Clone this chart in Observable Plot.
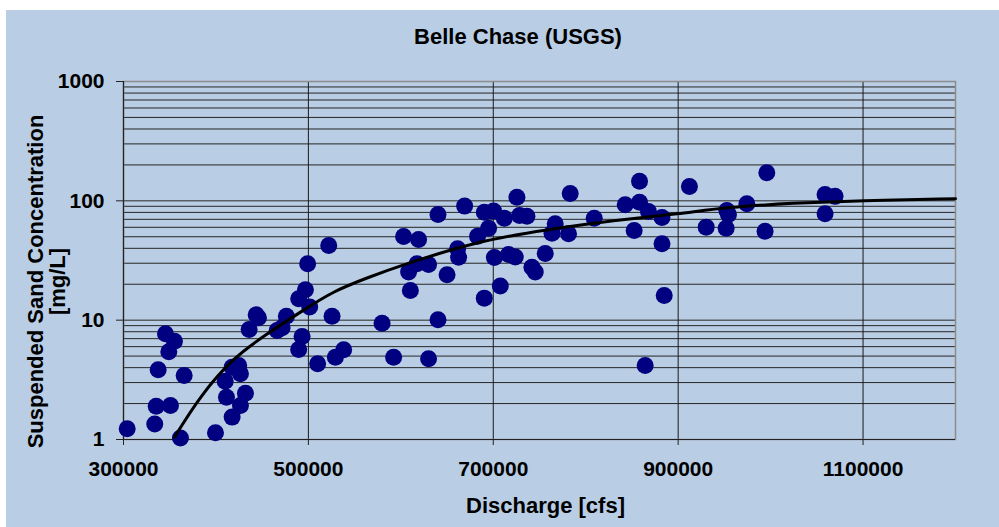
<!DOCTYPE html>
<html><head><meta charset="utf-8">
<script src="https://cdn.jsdelivr.net/npm/d3@7"></script>
<script src="https://cdn.jsdelivr.net/npm/@observablehq/plot@0.6"></script>
<style>
body{margin:0;background:#fff;width:999px;height:527px;overflow:hidden;font-family:"Liberation Sans",Arial,sans-serif;}
#panel{position:absolute;left:6px;top:10px;width:993px;height:517px;background:#b9cde5;}
#title{height:50px;line-height:54px;font-weight:bold;font-size:22px;text-align:center;padding-left:31px;color:#000;}
#chart svg{display:block;}
</style>
</head><body>
<div id="panel"><div id="title">Belle Chase (USGS)</div><div id="chart"></div></div>
<script>
const discharge = [304000,333800,335400,350800,337500,365600,345400,355100,349000,361600,
  399500,417500,411400,426500,431900,410000,417500,424600,426500,435900,
  443500,446000,466200,471600,476200,493200,489500,489500,496800,501400,
  499200,522000,525600,510000,529200,538200,579700,592200,603000,640200,
  669000,619200,661400,662500,617500,630000,608400,650000,610300,640200,
  630000,683000,694900,690300,700300,711900,725600,728400,736400,701200,
  716500,723800,756200,741800,745400,690300,707600,767000,763500,781400,
  783200,809200,842700,858200,858200,867900,882500,852400,882500,884900,
  864300,912200,930300,952700,954400,951900,974300,995900,994000,1058900,
  1069700,1058900];
const sand = [1.23,1.35,1.9,1.93,3.84,3.44,7.69,6.67,5.43,1.03,
  1.14,1.54,2.26,1.93,2.44,3.08,4.04,4.17,3.55,8.36,
  11.1,10.5,8.2,8.64,10.8,7.3,5.68,15.1,18.0,12.9,
  29.7,42.3,10.8,4.31,4.9,5.65,9.44,4.9,50.3,76.9,
  90.3,47.5,39.7,33.7,29.7,29.3,25.3,24.0,17.7,10.1,
  4.75,50.6,59.0,80.4,82,71.6,107,75.4,74.4,33.5,
  35.5,33.9,36.2,27.8,25.3,15.3,19.3,64.3,53.6,53.0,
  115,71.6,92.7,146,97.5,81.5,72.6,56.5,43.7,16.1,
  4.17,132,60.2,83.1,76.9,59.0,94.6,172,55.7,113,
  109,78];
const trendDischarge = [355100,383200,419200,455400,491400,527400,563500,599500,686000,758100,830100,902200,952700,1024600,1096800,1200000];
const trendSand = [1.045,2.34,4.9,7.69,11.7,17.6,22.6,28.7,46.6,57.3,68.5,78,88.5,95.7,100.7,104];
const xTicks = [300000,500000,700000,900000,1100000];
const xGrid = [500000,700000,900000,1100000];
const yTicks = [1,10,100,1000];
const yMinor = [2,3,4,5,6,7,8,9,20,30,40,50,60,70,80,90,200,300,400,500,600,700,800,900];

const points = discharge.map((d,i)=>({discharge:d, sand:sand[i]}));
const trend = trendDischarge.map((d,i)=>({discharge:d, sand:trendSand[i]}));
const font = {fontSize:21, fontWeight:"bold", fill:"#000"};

const chart = Plot.plot({
  width:993, height:467,
  marginLeft:117, marginRight:44, marginTop:21, marginBottom:88,
  x:{domain:[300000,1200000], axis:null},
  y:{type:"log", domain:[1,1000], axis:null},
  style:{background:"transparent", fontFamily:"'Liberation Sans', Arial, sans-serif", overflow:"visible", color:"#000"},
  marks:[
    Plot.ruleY(yMinor, {stroke:"#262626", strokeWidth:1}),
    Plot.ruleY([10,100], {stroke:"#262626", strokeWidth:1}),
    Plot.ruleX(xGrid, {stroke:"#1a1a1a", strokeWidth:1}),
    Plot.frame({stroke:"#8c8c8c", strokeWidth:1.5}),
    Plot.ruleX([300000], {stroke:"#222", strokeWidth:1.2}),
    Plot.ruleY([1], {stroke:"#222", strokeWidth:1.2}),
    Plot.axisY(yTicks, {tickSize:7, tickPadding:12, stroke:"#222", tickFormat:d=>String(d), label:null, ...font}),
    Plot.axisX(xTicks, {tickSize:6, tickPadding:16, stroke:"#222", tickFormat:d3.format("d"), label:null, ...font}),
    Plot.dot(points, {x:"discharge", y:"sand", r:8.5, fill:"#000080", stroke:"none"}),
    Plot.line(trend, {x:"discharge", y:"sand", stroke:"#000", strokeWidth:3, curve:"basis"}),
    Plot.text(["Suspended Sand Concentration"], {frameAnchor:"left", textAnchor:"middle", dx:-88, dy:21, rotate:-90, ...font, fontSize:22}),
    Plot.text(["[mg/L]"], {frameAnchor:"left", textAnchor:"middle", dx:-66, dy:21, rotate:-90, ...font, fontSize:22}),
    Plot.text(["Discharge [cfs]"], {frameAnchor:"bottom", textAnchor:"middle", dx:6, dy:73, ...font, fontSize:22})
  ]
});
document.getElementById("chart").appendChild(chart);
</script>
</body></html>
